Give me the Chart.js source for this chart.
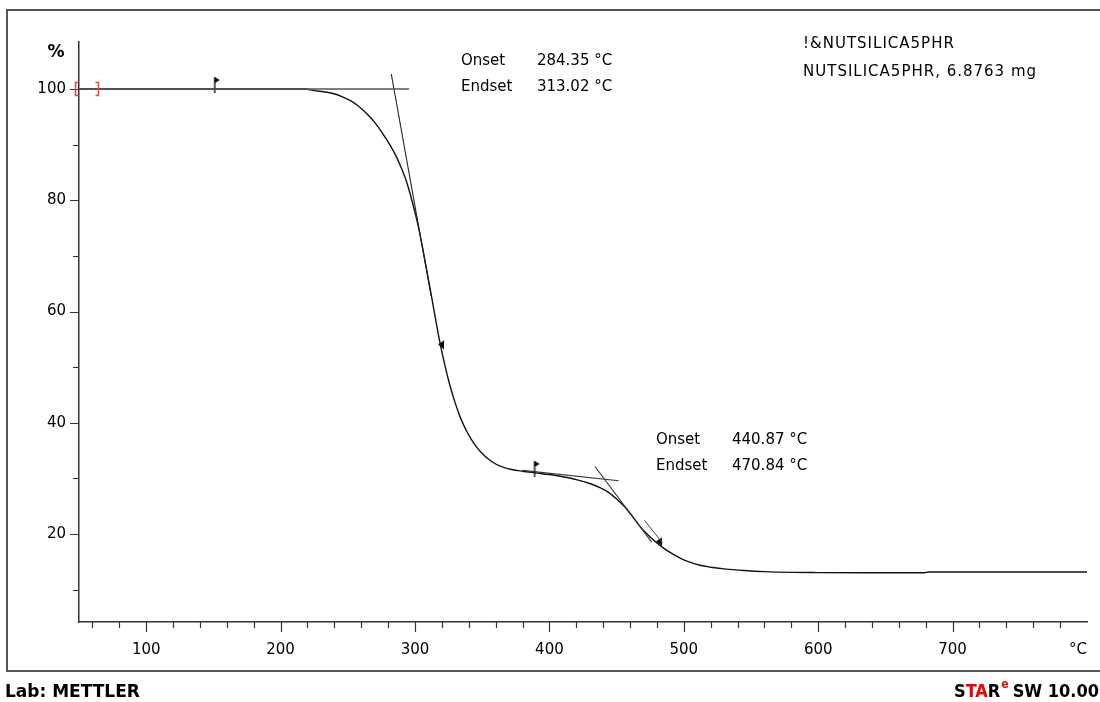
<!DOCTYPE html>
<html>
<head>
<meta charset="utf-8">
<script src="https://cdn.jsdelivr.net/npm/chart.js@4.4.0/dist/chart.umd.min.js"></script>
<style>
  html, body { margin: 0; padding: 0; background: #fff; }
</style>
</head>
<body>
<canvas id="chart" width="1100" height="702"></canvas>
<script>
'use strict';

let canvasElem = document.getElementById('chart');

// TGA curve: temperature (°C) and remaining mass (%)
let tempC = [50, 100, 150, 171, 200, 218, 225, 232, 239, 246, 252, 258, 264, 270, 276, 282, 286, 290, 294, 298,
  302, 306, 310, 314, 318, 322, 326, 330, 334, 338, 342, 346, 350, 355, 360, 366, 372, 380, 390, 400,
  410, 420, 430, 438, 444, 450, 456, 462, 468, 474, 480, 486, 492, 498, 504, 512, 520, 530, 545, 560,
  580, 600, 640, 679, 682, 720, 760, 800];
let massPct = [100.0, 100.0, 100.0, 100.0, 100.0, 100.0, 99.7, 99.5, 99.2, 98.6, 97.9, 96.9, 95.6, 94.0, 92.0, 89.7, 87.9, 85.7, 83.1, 79.7,
  75.8, 71.0, 65.8, 60.4, 55.1, 50.6, 46.7, 43.5, 40.8, 38.7, 37.0, 35.6, 34.5, 33.4, 32.6, 32.0, 31.6, 31.3, 31.0, 30.7,
  30.3, 29.8, 29.1, 28.3, 27.5, 26.3, 24.9, 23.1, 21.2, 19.7, 18.4, 17.3, 16.4, 15.6, 15.0, 14.4, 14.05, 13.75, 13.45, 13.25,
  13.12, 13.08, 13.05, 13.05, 13.2, 13.2, 13.2, 13.2];

// evaluation lines, step 1 (onset 284.35 °C)
let base1X = [50, 295.5];
let base1Y = [100.0, 100.0];
let tan1X = [282.35, 312.0];
let tan1Y = [102.7, 62.8];

// evaluation lines, step 2 (onset 440.87 °C)
let base2X = [380, 451.6];
let base2Y = [31.45, 29.6];
let tan2X = [433.9, 476.1];
let tan2Y = [32.15, 18.55];
let tan2bX = [470.6, 484.2];
let tan2bY = [22.5, 18.4];

// evaluation limit flags and step markers
let flagX = [151, 389];
let flagY = [100.0, 31.0];
let arrowX = [319.3, 481.5];
let arrowY = [54.0, 18.6];
let bracketX = [47.0, 63.8];
let bracketY = 100.0;

// axes
let xMajor = [100, 200, 300, 400, 500, 600, 700];
let xMinor = [60, 80, 120, 140, 160, 180, 220, 240, 260, 280, 320, 340, 360, 380, 420, 440, 460, 480,
  520, 540, 560, 580, 620, 640, 660, 680, 720, 740, 760, 780];
let yMajor = [20, 40, 60, 80, 100];
let yMinor = [10, 30, 50, 70, 90];

// text blocks
let step1Text = [['Onset', '284.35 °C'], ['Endset', '313.02 °C']];
let step1Pos = [334.2, 105.0];
let step2Text = [['Onset', '440.87 °C'], ['Endset', '470.84 °C']];
let step2Pos = [479.3, 36.9];
let sampleText = ['!&NUTSILICA5PHR', 'NUTSILICA5PHR, 6.8763 mg'];
let samplePos = [588.7, 108.1];

const FONT = '"DejaVu Sans", sans-serif';
const FONT_C = '"DejaVu Sans Condensed", "DejaVu Sans", sans-serif';

function pts(xs, ys) {
  return xs.map((x, i) => ({ x: x, y: ys[i] }));
}

function makeFlag(h) {
  let c = document.createElement('canvas');
  c.width = 14;
  c.height = 2 * h + 2;
  let g = c.getContext('2d');
  let mid = h + 1;
  g.strokeStyle = '#111';
  g.lineWidth = 1.4;
  g.beginPath();
  g.moveTo(7, mid - h);
  g.lineTo(7, mid + 4);
  g.stroke();
  g.fillStyle = '#000';
  g.beginPath();
  g.moveTo(7, mid - h);
  g.lineTo(12, mid - h + 3);
  g.lineTo(7, mid - h + 6);
  g.closePath();
  g.fill();
  return c;
}

function makeArrow() {
  let c = document.createElement('canvas');
  c.width = 8;
  c.height = 11;
  let g = c.getContext('2d');
  g.fillStyle = '#000';
  g.beginPath();
  g.moveTo(7, 1);
  g.lineTo(7, 10);
  g.lineTo(1, 5);
  g.closePath();
  g.fill();
  return c;
}

let flagImg = makeFlag(12);
let arrowImg = makeArrow();

function lineSet(data, color, width) {
  return {
    data: data,
    borderColor: color,
    borderWidth: width,
    pointRadius: 0,
    tension: 0,
    fill: false
  };
}

const decor = {
  id: 'decor',
  beforeDraw(chart) {
    const ctx = chart.ctx;
    ctx.save();
    ctx.fillStyle = '#fff';
    ctx.fillRect(0, 0, chart.width, chart.height);
    ctx.strokeStyle = '#555';
    ctx.lineWidth = 2;
    ctx.strokeRect(7, 10, 1110, 661);
    ctx.restore();
  },
  afterDraw(chart) {
    const ctx = chart.ctx;
    const xs = chart.scales.x;
    const ys = chart.scales.y;
    ctx.save();

    // tick marks
    ctx.strokeStyle = '#333';
    ctx.lineWidth = 1.2;
    ctx.beginPath();
    xMajor.forEach(v => {
      let px = Math.round(xs.getPixelForValue(v)) + 0.5;
      ctx.moveTo(px, xs.top);
      ctx.lineTo(px, xs.top + 10);
    });
    xMinor.forEach(v => {
      let px = Math.round(xs.getPixelForValue(v)) + 0.5;
      ctx.moveTo(px, xs.top);
      ctx.lineTo(px, xs.top + 6);
    });
    yMajor.forEach(v => {
      let py = Math.round(ys.getPixelForValue(v)) + 0.5;
      ctx.moveTo(ys.right, py);
      ctx.lineTo(ys.right - 9, py);
    });
    yMinor.forEach(v => {
      let py = Math.round(ys.getPixelForValue(v)) + 0.5;
      ctx.moveTo(ys.right, py);
      ctx.lineTo(ys.right - 6, py);
    });
    ctx.stroke();

    // red range brackets on the 100 % line
    ctx.strokeStyle = '#ff3b3b';
    ctx.lineWidth = 1.5;
    let by = ys.getPixelForValue(bracketY);
    let bl = Math.round(xs.getPixelForValue(bracketX[0])) + 0.5;
    let br = Math.round(xs.getPixelForValue(bracketX[1])) + 0.5;
    ctx.beginPath();
    ctx.moveTo(bl + 3, by - 6.5);
    ctx.lineTo(bl, by - 6.5);
    ctx.lineTo(bl, by + 6.5);
    ctx.lineTo(bl + 3, by + 6.5);
    ctx.moveTo(br - 3, by - 6.5);
    ctx.lineTo(br, by - 6.5);
    ctx.lineTo(br, by + 6.5);
    ctx.lineTo(br - 3, by + 6.5);
    ctx.stroke();

    // axis unit labels
    ctx.fillStyle = '#000';
    ctx.textBaseline = 'middle';
    ctx.font = 'bold 17px ' + FONT;
    ctx.textAlign = 'center';
    ctx.fillText('%', ys.right - 23, ys.top + 11);
    ctx.font = '15px ' + FONT;
    ctx.textAlign = 'right';
    ctx.fillText('°C', xs.right, xs.top + 28);

    // onset / endset blocks
    ctx.textAlign = 'left';
    [[step1Text, step1Pos], [step2Text, step2Pos]].forEach(([rows, pos]) => {
      let px = xs.getPixelForValue(pos[0]);
      let py = ys.getPixelForValue(pos[1]);
      rows.forEach((r, i) => {
        ctx.fillText(r[0], px, py + i * 26);
        ctx.fillText(r[1], px + 76, py + i * 26);
      });
    });

    // sample name
    ctx.letterSpacing = '1px';
    let sx = xs.getPixelForValue(samplePos[0]);
    let sy = ys.getPixelForValue(samplePos[1]);
    sampleText.forEach((t, i) => ctx.fillText(t, sx, sy + i * 28));
    ctx.letterSpacing = '0px';

    // footer
    ctx.textBaseline = 'alphabetic';
    ctx.font = 'bold 17px ' + FONT;
    ctx.fillText('Lab: METTLER', 5, 697);
    ctx.font = 'bold 18px ' + FONT_C;
    let fx = 954;
    [['S', '#000'], ['TA', '#f00000'], ['R', '#000']].forEach(([t, c]) => {
      ctx.fillStyle = c;
      ctx.fillText(t, fx, 697);
      fx += ctx.measureText(t).width;
    });
    ctx.font = 'bold 12px ' + FONT_C;
    ctx.fillStyle = '#f00000';
    ctx.fillText('e', fx + 1, 688);
    fx += ctx.measureText('e').width + 5;
    ctx.font = 'bold 18px ' + FONT_C;
    ctx.fillStyle = '#000';
    ctx.fillText('SW 10.00', fx, 697);

    ctx.restore();
  }
};

new Chart(canvasElem, {
  type: 'line',
  data: {
    datasets: [
      lineSet(pts(base1X, base1Y), '#555', 1.6),
      lineSet(pts(tan1X, tan1Y), '#222', 1.1),
      lineSet(pts(base2X, base2Y), '#333', 1.1),
      lineSet(pts(tan2X, tan2Y), '#333', 1.1),
      lineSet(pts(tan2bX, tan2bY), '#444', 1.0),
      {
        data: pts(tempC, massPct),
        borderColor: '#111',
        borderWidth: 1.4,
        pointRadius: 0,
        cubicInterpolationMode: 'monotone',
        fill: false
      },
      {
        data: pts(flagX, flagY),
        showLine: false,
        pointStyle: flagImg,
        pointRadius: 6
      },
      {
        data: pts(arrowX, arrowY),
        showLine: false,
        pointStyle: arrowImg,
        pointRadius: 5
      }
    ]
  },
  options: {
    responsive: false,
    animation: false,
    devicePixelRatio: 1,
    layout: { padding: { top: 42, right: 13, left: 0, bottom: 0 } },
    plugins: {
      legend: { display: false },
      tooltip: { enabled: false }
    },
    scales: {
      x: {
        type: 'linear',
        min: 50,
        max: 800,
        afterFit: s => { s.height = 80; },
        afterBuildTicks: s => { s.ticks = xMajor.map(v => ({ value: v })); },
        grid: { display: false, drawTicks: false },
        border: { display: true, color: '#333', width: 1.5 },
        ticks: {
          padding: 19,
          color: '#000',
          autoSkip: false,
          maxRotation: 0,
          font: { family: FONT, size: 15 }
        }
      },
      y: {
        type: 'linear',
        min: 4.2,
        max: 108.45,
        afterFit: s => { s.width = 79; },
        afterBuildTicks: s => { s.ticks = yMajor.map(v => ({ value: v })); },
        grid: { display: false, drawTicks: false },
        border: { display: true, color: '#333', width: 1.5 },
        ticks: {
          padding: 13,
          color: '#000',
          font: { family: FONT, size: 15 }
        }
      }
    }
  },
  plugins: [decor]
});
</script>
</body>
</html>
